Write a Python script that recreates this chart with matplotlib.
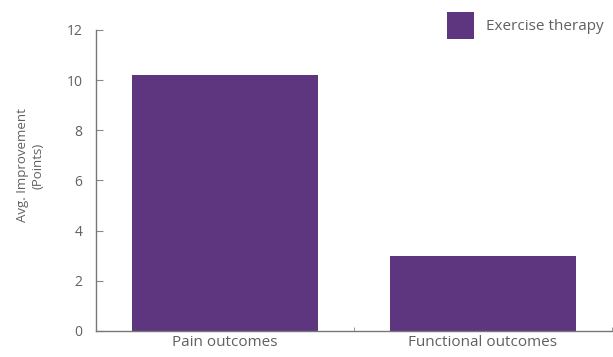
import matplotlib.pyplot as plt
import numpy as np

# Average improvement per outcome type
categories = ['Pain outcomes', 'Functional outcomes']
improvement = [10.2, 3.0]
series_name = 'Exercise therapy'

purple = '#5e3680'
grey = '#606060'

plt.rcParams['font.family'] = ['Open Sans', 'DejaVu Sans']

fig = plt.figure(figsize=(6.13, 3.57), dpi=100)
ax = fig.add_axes([0.157, 0.073, 0.841, 0.843])

x = np.arange(len(categories))
ax.bar(x, improvement, width=0.72, color=purple, label=series_name)

ax.set_xlim(-0.5, len(categories) - 0.5)
ax.set_ylim(0, 12)
ax.set_yticks(range(0, 13, 2))

# category labels without ticks, small ticks at the category boundaries
ax.set_xticks(x)
ax.set_xticklabels(categories, fontsize=11, color=grey)
ax.tick_params(axis='x', length=0, pad=3)
ax.set_xticks(np.arange(-0.5, len(categories)), minor=True)
ax.tick_params(axis='x', which='minor', direction='in', length=3, color='#888888')
ax.tick_params(axis='y', direction='in', length=5, color='#888888',
               labelsize=10, labelcolor=grey, pad=10)

for side in ['top', 'right']:
    ax.spines[side].set_visible(False)
for side in ['left', 'bottom']:
    ax.spines[side].set_color('#777777')
    ax.spines[side].set_linewidth(1.0)

ax.set_ylabel('Avg. Improvement\n(Points)', fontsize=9.5, color=grey,
              linespacing=1.3)
ax.yaxis.set_label_coords(-0.1, 0.55)

fig.legend(loc='upper right', bbox_to_anchor=(0.985, 0.966), frameon=False,
           fontsize=11, labelcolor=grey, handlelength=1.78, handleheight=2.33,
           handletextpad=0.8, borderpad=0, borderaxespad=0)

fig.savefig('out.png', dpi=100)
